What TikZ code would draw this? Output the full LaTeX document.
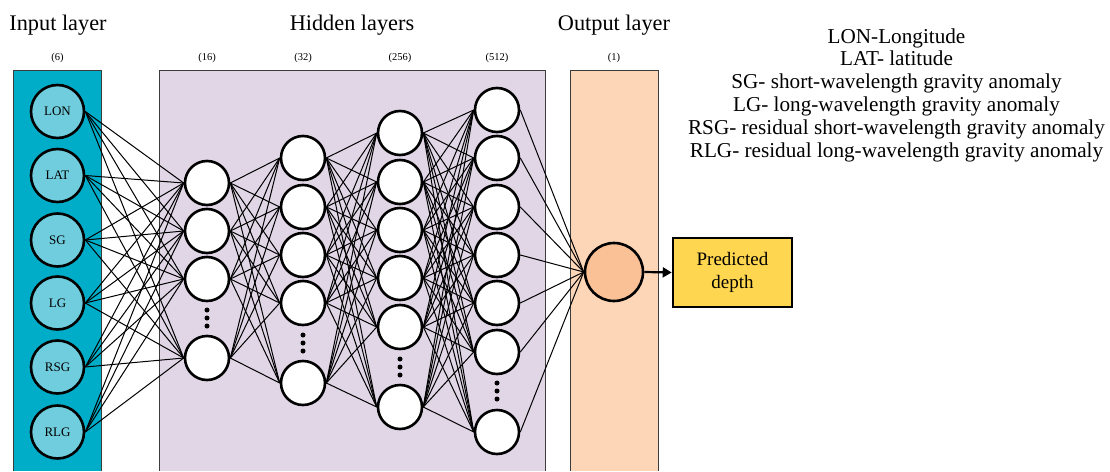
\documentclass[tikz,border=0pt]{standalone}
\usepackage{fontspec}
\setmainfont{Liberation Serif}
\usetikzlibrary{arrows.meta}
\definecolor{inbox}{RGB}{0,173,200}
\definecolor{incirc}{RGB}{112,205,221}
\definecolor{hidbox}{RGB}{224,214,230}
\definecolor{outbox}{RGB}{253,214,184}
\definecolor{outcirc}{RGB}{250,192,150}
\definecolor{predbox}{RGB}{255,214,80}
\definecolor{edgegray}{RGB}{60,60,60}
\tikzset{
  neuron/.style={circle,draw=black,line width=2.6pt,fill=white,minimum size=44pt,inner sep=0pt},
  inneuron/.style={circle,draw=black,line width=2.6pt,fill=incirc,minimum size=53pt,inner sep=0pt,font=\fontsize{13}{15}\selectfont},
  outneuron/.style={circle,draw=black,line width=2.6pt,fill=outcirc,minimum size=58pt,inner sep=0pt},
  conn/.style={line width=1pt,black},
  panel/.style={draw=edgegray,line width=1pt},
  title/.style={font=\fontsize{22.3}{25}\selectfont},
  count/.style={font=\fontsize{10.5}{12}\selectfont},
  vdot/.style={circle,fill=black,inner sep=0pt,minimum size=5pt},
}
\begin{document}
\begin{tikzpicture}[x=1pt,y=-1pt]
\useasboundingbox (0,0) rectangle (1110,471);
% panels
\fill[inbox] (13,70) rectangle (101,471);
\draw[panel] (13,471) -- (13,70) -- (101,70) -- (101,471);
\fill[hidbox] (159,70) rectangle (545,471);
\draw[panel] (159,471) -- (159,70) -- (545,70) -- (545,471);
\fill[outbox] (570,70) rectangle (658,471);
\draw[panel] (570,471) -- (570,70) -- (658,70) -- (658,471);
% titles
\node[title] (tin) at (58,25) {Input layer};
\node[title] (thid) at (352,25) {Hidden layers};
\node[title] (tout) at (614,25) {Output layer};
\node[count] (c0) at (57.5,58) {(6)};
\node[count] (c1) at (207,58) {(16)};
\node[count] (c2) at (303,58) {(32)};
\node[count] (c3) at (400,58) {(256)};
\node[count] (c4) at (497,58) {(512)};
\node[count] (c5) at (614,58) {(1)};
% input neurons
\foreach \n/\y/\t in {1/111.5/LON,2/175.5/LAT,3/240/SG,4/303/LG,5/367/RSG,6/432/RLG}
  \node[inneuron] (i\n) at (57.5,\y) {\t};
% hidden layer 1
\foreach \n/\y in {1/183,2/231,3/279,4/358}
  \node[neuron] (a\n) at (207,\y) {};
% hidden layer 2
\foreach \n/\y in {1/158,2/207,3/255,4/303,5/383}
  \node[neuron] (b\n) at (303,\y) {};
% hidden layer 3
\foreach \n/\y in {1/133,2/182,3/230,4/278,5/327,6/407}
  \node[neuron] (c\n) at (400,\y) {};
% hidden layer 4
\foreach \n/\y in {1/110,2/158,3/207,4/255,5/303,6/352,7/432}
  \node[neuron] (d\n) at (497,\y) {};
% output
\node[outneuron] (o) at (614,272) {};
% dots
\foreach \x/\y/\k in {207/318/a,303/343/b,400/367/c,497/391/d}{
  \node[vdot] (\k dt) at (\x,\y-8) {};
  \node[vdot] (\k dm) at (\x,\y) {};
  \node[vdot] (\k db) at (\x,\y+8) {};
}
% connections
\foreach \s in {1,...,6}
  \foreach \t in {1,...,4}
    \draw[conn] (i\s.east) -- (a\t.west);
\foreach \s in {1,...,4}
  \foreach \t in {1,...,5}
    \draw[conn] (a\s.east) -- (b\t.west);
\foreach \s in {1,...,5}
  \foreach \t in {1,...,6}
    \draw[conn] (b\s.east) -- (c\t.west);
\foreach \s in {1,...,6}
  \foreach \t in {1,...,7}
    \draw[conn] (c\s.east) -- (d\t.west);
\foreach \s in {1,...,7}
  \draw[conn] (d\s.east) -- (o.west);
% predicted
\node[draw=black,line width=2.6pt,fill=predbox,minimum width=119pt,minimum height=69pt,align=center,inner sep=0pt,font=\fontsize{19}{23}\selectfont] (pd) at (732.5,272.5) {Predicted\\depth};
\draw[line width=2.2pt,-{Triangle[length=9pt,width=10pt]}] (o.east) -- (pd.west);
% legend
\node[align=center,font=\fontsize{21.2}{22.8}\selectfont] (leg) at (896.5,95) {LON-Longitude\\LAT- latitude\\SG- short-wavelength gravity anomaly\\LG- long-wavelength gravity anomaly\\RSG- residual short-wavelength gravity anomaly\\RLG- residual long-wavelength gravity anomaly};
\end{tikzpicture}
\end{document}
